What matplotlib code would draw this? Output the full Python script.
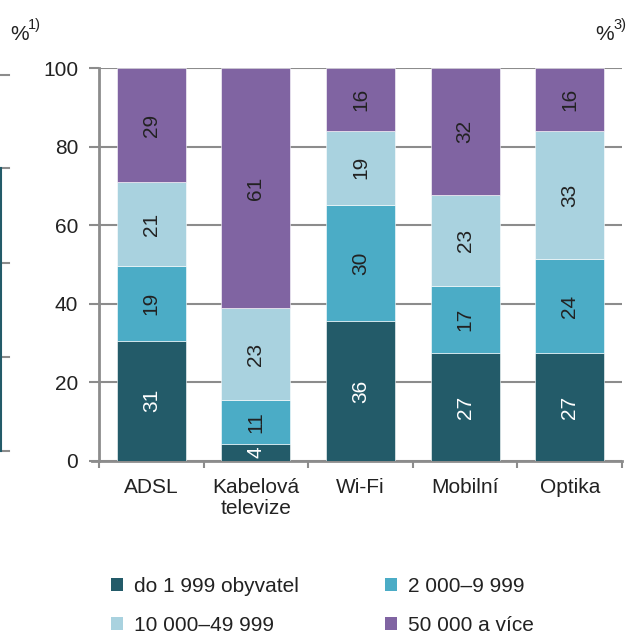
import numpy as np
import matplotlib
matplotlib.use("Agg")
import matplotlib.pyplot as plt
from matplotlib.patches import Patch
from matplotlib.lines import Line2D

plt.rcParams['font.family'] = ['Liberation Sans', 'DejaVu Sans']

# Data (share in %)
categories = ["ADSL", "Kabelová\ntelevize", "Wi-Fi", "Mobilní", "Optika"]
series_names = ["do 1 999 obyvatel", "2 000–9 999", "10 000–49 999", "50 000 a více"]
do_1999 = [30.6, 4.3, 35.6, 27.4, 27.4]
od_2000 = [18.9, 11.2, 29.6, 17.1, 24.0]
od_10000 = [21.4, 23.4, 18.8, 23.2, 32.6]
nad_50000 = [29.1, 61.1, 16.0, 32.3, 16.0]
y_ticks = [0, 20, 40, 60, 80, 100]

colors = ["#235B69", "#4BACC6", "#A9D2DF", "#8064A2"]
text_colors = ["white", "#222222", "#222222", "#222222"]
grey = "#8C8C8C"
fs = 15

fig = plt.figure(figsize=(6.26, 6.35), dpi=100)
ax = fig.add_axes([99 / 626, 1 - 461 / 635, 523 / 626, 393 / 635])

x = np.arange(len(categories))
bottom = np.zeros(len(categories))
for vals, col, tcol in zip([do_1999, od_2000, od_10000, nad_50000], colors, text_colors):
    vals = np.array(vals)
    ax.bar(x, vals, width=0.66, bottom=bottom, color=col, edgecolor="white",
           linewidth=0.4, zorder=3)
    for xi, b, v in zip(x, bottom, vals):
        ax.text(xi, b + v / 2, str(int(round(v))), rotation=90, ha="center",
                va="center", fontsize=fs, color=tcol, zorder=4)
    bottom += vals

ax.set_xlim(-0.5, 4.5)
ax.set_ylim(0, 100)
ax.set_yticks(y_ticks)
ax.set_xticks(x)
ax.set_xticklabels(categories, fontsize=fs, color="#222222", linespacing=1.15)
ax.set_xticks(np.arange(-0.5, 4.6, 1), minor=True)
ax.tick_params(axis="x", which="major", length=0, pad=12)
ax.tick_params(axis="x", which="minor", length=5, width=1.5, color=grey)
ax.tick_params(axis="y", length=7, width=1.5, color=grey, labelsize=fs,
               labelcolor="#222222", pad=8)
ax.grid(axis="y", color=grey, linewidth=1.5, zorder=0)
for s in ["top", "right"]:
    ax.spines[s].set_visible(False)
for s in ["left", "bottom"]:
    ax.spines[s].set_color(grey)
    ax.spines[s].set_linewidth(2)
ax.spines["bottom"].set_bounds(-0.57, 4.5)

# unit labels with footnote marks
for x0, note in [(10, "1)"), (595, "3)")]:
    fig.text(x0 / 626, 1 - 40 / 635, "%", fontsize=15, color="#222222", va="baseline")
    fig.text((x0 + 18) / 626, 1 - 29 / 635, note, fontsize=10.5, color="#222222", va="baseline")

# fragments of the neighbouring chart at the left edge
for yy in [75, 168, 263, 357, 451]:
    fig.add_artist(Line2D([0, 9 / 626], [1 - yy / 635] * 2, color=grey, linewidth=1.5))
fig.add_artist(Line2D([0.7 / 626] * 2, [1 - 168 / 635, 1 - 451 / 635], color=colors[0], linewidth=1.5))

handles = [Patch(facecolor=c, edgecolor="none") for c in colors]
order = [0, 2, 1, 3]
fig.legend([handles[i] for i in order], [series_names[i] for i in order], ncol=2,
           loc="upper left", bbox_to_anchor=(92 / 626, 1 - 558 / 635), frameon=False,
           fontsize=fs, handlelength=0.6, handleheight=0.6, handletextpad=0.5,
           columnspacing=4.13, labelspacing=0.95, labelcolor="#222222")

fig.savefig("out.png", dpi=100)
